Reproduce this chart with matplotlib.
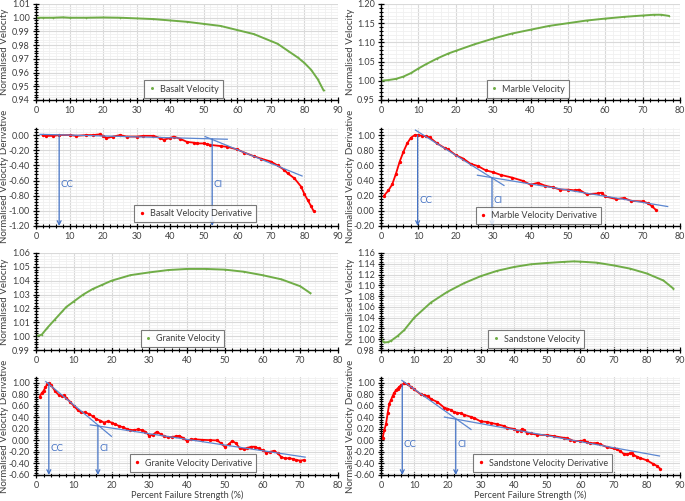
import matplotlib
matplotlib.use('Agg')
import matplotlib.pyplot as plt
from matplotlib.ticker import MultipleLocator, FormatStrFormatter

plt.rcParams['font.family'] = ['Lato', 'DejaVu Sans']

GREEN = '#70AD47'
RED = '#FF0000'
BLUE = '#4472C4'
FIT = '#5B86D0'

# ---- velocity curves ----
basalt_x = [0, 2, 5, 8, 10, 15, 20, 25, 30, 35, 40, 45, 50, 55, 60, 65, 70, 72, 75, 78, 80, 82, 84, 85.7]
basalt_v = [1.000, 1.000, 1.000, 1.0003, 1.000, 1.000, 1.0002, 1.000, 0.9995, 0.999, 0.998, 0.997, 0.9955,
            0.994, 0.991, 0.988, 0.983, 0.981, 0.976, 0.971, 0.967, 0.962, 0.955, 0.947]

marble_x = [0, 2, 4, 6, 8, 10, 12, 15, 18, 20, 25, 30, 35, 40, 45, 50, 55, 60, 65, 70, 73, 75, 77]
marble_v = [1.000, 1.002, 1.005, 1.011, 1.020, 1.032, 1.043, 1.058, 1.071, 1.078, 1.095, 1.110, 1.123,
            1.133, 1.143, 1.150, 1.157, 1.162, 1.1665, 1.170, 1.172, 1.172, 1.169]

granite_x = [0, 1.5, 3, 5, 7, 8, 10, 12.5, 15, 17.5, 20, 25, 30, 35, 40, 45, 50, 55, 60, 65, 70, 72.7]
granite_v = [1.000, 1.001, 1.006, 1.012, 1.018, 1.021, 1.025, 1.030, 1.034, 1.037, 1.040, 1.044, 1.046,
             1.0477, 1.0485, 1.0485, 1.048, 1.0465, 1.044, 1.041, 1.036, 1.031]

sand_x = [0, 0.5, 1, 2, 3, 5, 7, 10, 15, 20, 25, 30, 35, 40, 45, 50, 55, 58, 60, 65, 70, 75, 80, 85, 88]
sand_v = [1.002, 0.996, 0.994, 0.9945, 0.997, 1.006, 1.017, 1.040, 1.068, 1.088, 1.104, 1.117, 1.127,
          1.134, 1.139, 1.1415, 1.1435, 1.1445, 1.144, 1.142, 1.137, 1.131, 1.122, 1.109, 1.094]

# ---- normalised derivatives ----
basalt_dx = [2, 3, 5, 7, 10, 12, 15, 17, 19, 20, 21, 23, 25, 27, 30, 32, 35, 37, 38, 40, 41, 43, 45, 47, 48,
             50, 51, 52, 55, 57, 60, 62, 65, 67, 70, 72, 74, 75, 77, 79, 80, 81, 82, 82.7]
basalt_d = [0.00, -0.01, -0.01, 0.00, 0.00, -0.01, 0.00, 0.00, 0.01, -0.01, -0.04, -0.02, 0.00, -0.02, -0.02,
            -0.01, -0.01, -0.04, -0.06, -0.04, -0.02, -0.05, -0.09, -0.10, -0.11, -0.11, -0.12, -0.13, -0.145,
            -0.155, -0.19, -0.23, -0.28, -0.31, -0.35, -0.40, -0.46, -0.505, -0.57, -0.68, -0.78, -0.86, -0.94, -1.00]

marble_dx = [0.8, 2, 3, 4, 5, 6, 7, 8, 9, 10, 11, 12, 13, 15, 17, 18, 20, 22, 24, 26, 28, 30, 32, 35, 38, 40,
             42, 44, 46, 48, 50, 52, 53, 55, 58, 59, 60, 63, 65, 67, 70, 71.5, 72.5, 73.5]
marble_d = [0.20, 0.27, 0.35, 0.49, 0.65, 0.78, 0.89, 0.965, 1.00, 1.00, 0.99, 0.985, 0.97, 0.89, 0.83, 0.81,
            0.735, 0.69, 0.62, 0.59, 0.535, 0.51, 0.475, 0.44, 0.395, 0.345, 0.37, 0.33, 0.31, 0.28, 0.28, 0.27,
            0.28, 0.22, 0.23, 0.24, 0.19, 0.155, 0.17, 0.13, 0.125, 0.10, 0.06, 0.015]

granite_dx = [1, 1.5, 2, 2.5, 3, 3.5, 4, 5, 6, 7, 7.5, 8, 9, 10, 11, 12, 13, 14, 15, 16, 17, 18, 19, 20, 21,
              22, 23, 24, 25, 26, 27, 28, 29, 30, 31, 32, 33, 34, 35, 36, 37, 38, 39, 40, 41, 42, 44, 46, 48,
              49, 50, 51, 52, 53, 54, 55, 56, 57, 58, 59, 60, 61, 62, 63, 64, 65, 66, 67, 68, 69, 70, 71]
granite_d = [0.76, 0.82, 0.86, 0.92, 0.98, 1.00, 0.96, 0.86, 0.79, 0.77, 0.78, 0.74, 0.67, 0.60, 0.53, 0.485,
             0.485, 0.46, 0.42, 0.37, 0.345, 0.31, 0.33, 0.31, 0.28, 0.25, 0.23, 0.20, 0.18, 0.18, 0.19, 0.18,
             0.15, 0.08, 0.10, 0.15, 0.11, 0.07, 0.06, 0.06, 0.07, 0.08, 0.04, -0.01, 0.02, 0.02, 0.01, 0.005,
             0.00, -0.05, -0.11, -0.07, -0.01, -0.05, -0.14, -0.15, -0.13, -0.11, -0.11, -0.14, -0.17, -0.21,
             -0.20, -0.18, -0.22, -0.29, -0.31, -0.31, -0.32, -0.34, -0.35, -0.34]

sand_dx = [0.5, 1, 1.5, 2, 2.5, 3, 3.5, 4, 4.5, 5, 5.5, 6, 7, 8, 9, 10, 12, 13, 14, 15, 17, 19, 20, 21, 22,
           23, 24, 25, 27, 28, 30, 32, 33, 35, 37, 38, 40, 41, 42, 42.5, 43, 44, 45, 47, 50, 52, 55, 56, 57,
           58, 60, 61, 62, 63, 65, 66, 68, 70, 71, 72, 73, 74, 75, 75.5, 76, 77, 78, 80, 82, 83, 84]
sand_d = [0.05, 0.18, 0.28, 0.47, 0.64, 0.70, 0.77, 0.83, 0.87, 0.90, 0.93, 0.955, 0.99, 0.97, 0.93, 0.885,
          0.80, 0.78, 0.77, 0.72, 0.665, 0.57, 0.55, 0.53, 0.49, 0.48, 0.47, 0.445, 0.41, 0.39, 0.33, 0.32,
          0.305, 0.28, 0.25, 0.22, 0.20, 0.17, 0.17, 0.20, 0.18, 0.13, 0.12, 0.10, 0.09, 0.075, 0.045, 0.035,
          0.015, -0.01, -0.01, 0.00, -0.03, -0.05, -0.045, -0.07, -0.115, -0.14, -0.155, -0.185, -0.23,
          -0.24, -0.225, -0.21, -0.25, -0.28, -0.305, -0.345, -0.41, -0.44, -0.49]

# fitted trend lines [(x0, y0), (x1, y1)], and CC / CI onsets (x, top of arrow, label y)
basalt_fits = [[(1.2, 0.01), (57, -0.055)], [(50.4, -0.02), (79.3, -0.54)]]
basalt_cc = (6.9, 0.0, -0.65)
basalt_ci = (52.5, -0.05, -0.65)
marble_fits = [[(9.2, 1.066), (32.9, 0.335)], [(25.8, 0.47), (76.7, 0.057)]]
marble_cc = (9.8, 1.0, 0.14)
marble_ci = (29.7, 0.43, 0.14)
granite_fits = [[(2.6, 1.02), (20.0, 0.07)], [(14.4, 0.27), (71.3, -0.29)]]
granite_cc = (3.4, 1.0, -0.14)
granite_ci = (16.4, 0.26, -0.14)
sand_fits = [[(6.3, 1.04), (27.1, 0.19)], [(19.1, 0.405), (83.8, -0.27)]]
sand_cc = (6.4, 0.97, -0.07)
sand_ci = (22.5, 0.36, -0.07)

W, H = 685, 501
fig = plt.figure(figsize=(W / 100, H / 100), dpi=100)


def make_ax(left, top, right, bottom):
    return fig.add_axes([left / W, 1 - bottom / H, (right - left) / W, (bottom - top) / H])


def style(ax, xmax, ymin, ymax, ymaj, fmt, ylabel, xlabel=False):
    ax.set_xlim(0, xmax)
    ax.set_ylim(ymin, ymax)
    ax.xaxis.set_major_locator(MultipleLocator(10))
    ax.xaxis.set_minor_locator(MultipleLocator(2))
    ax.yaxis.set_major_locator(MultipleLocator(ymaj))
    ax.yaxis.set_minor_locator(MultipleLocator(ymaj / 5))
    ax.yaxis.set_major_formatter(FormatStrFormatter(fmt))
    ax.grid(which='major', color='#d9d9d9', lw=0.8)
    ax.grid(which='minor', color='#f0f0f0', lw=0.6)
    ax.set_axisbelow(True)
    for s in ['top', 'right']:
        ax.spines[s].set_visible(False)
    for s in ['left', 'bottom']:
        ax.spines[s].set_linewidth(1.0)
    ax.tick_params(which='major', direction='inout', length=4, width=0.9, labelsize=6.5, colors='black',
                   labelcolor='#404040', pad=2.5)
    ax.tick_params(which='minor', direction='inout', length=3, width=0.8)
    ax.set_ylabel(ylabel, fontsize=7, color='#404040')
    ax.yaxis.set_label_coords(-0.088, 0.5)
    if xlabel:
        ax.set_xlabel('Percent Failure Strength (%)', fontsize=6.6, color='#404040', labelpad=0.5)


def legend(ax, cx, cy, mscale=1.0):
    lg = ax.legend(loc='center', bbox_to_anchor=(cx / W, 1 - cy / H), bbox_transform=fig.transFigure,
                   fontsize=6.5, frameon=True, fancybox=False, handlelength=0.8, handletextpad=0.5,
                   borderpad=0.45, markerscale=mscale)
    lg.get_frame().set_edgecolor('#595959')
    lg.get_frame().set_linewidth(0.8)
    for t in lg.get_texts():
        t.set_color('#404040')


def derivative_extras(ax, fits, cc, ci, ymin):
    for (x0, y0), (x1, y1) in fits:
        ax.plot([x0, x1], [y0, y1], color=FIT, lw=0.9, zorder=4)
    for (x, top, ly), name in [(cc, 'CC'), (ci, 'CI')]:
        ax.annotate('', xy=(x, ymin), xytext=(x, top),
                    arrowprops=dict(arrowstyle='->', color=BLUE, lw=0.9, shrinkA=0, shrinkB=0,
                                    mutation_scale=7), zorder=5)
        ax.text(x + 0.5, ly, name, color=BLUE, fontsize=7, va='center', ha='left')


def velocity_plot(ax, x, v, name):
    ax.plot(x, v, color=GREEN, lw=1.4)
    ax.plot(x, v, 'o', color=GREEN, ms=1.2, mew=0, label=name)


def derivative_plot(ax, x, d, name):
    ax.plot(x, d, color=RED, lw=1.3)
    ax.plot(x, d, 'o', color=RED, ms=1.4, label=name)


# row 1
ax1 = make_ax(36, 4, 338, 100)
velocity_plot(ax1, basalt_x, basalt_v, 'Basalt Velocity')
style(ax1, 90, 0.94, 1.01, 0.01, '%.2f', 'Normalised Velocity')
legend(ax1, 183.5, 89, 1.8)

ax2 = make_ax(381, 4, 680, 100)
velocity_plot(ax2, marble_x, marble_v, 'Marble Velocity')
style(ax2, 80, 0.95, 1.20, 0.05, '%.2f', 'Normalised Velocity')
legend(ax2, 528, 89, 1.8)

# row 2
ax3 = make_ax(36, 127.5, 338, 226)
derivative_plot(ax3, basalt_dx, basalt_d, 'Basalt Velocity Derivative')
derivative_extras(ax3, basalt_fits, basalt_cc, basalt_ci, -1.2)
style(ax3, 90, -1.2, 0.1, 0.2, '%.2f', 'Normalised Velocity Derivative')
ax3.set_yticks([-1.2, -1.0, -0.8, -0.6, -0.4, -0.2, 0.0])
legend(ax3, 195, 213.5)

ax4 = make_ax(381, 127.5, 680, 226)
derivative_plot(ax4, marble_dx, marble_d, 'Marble Velocity Derivative')
derivative_extras(ax4, marble_fits, marble_cc, marble_ci, -0.2)
style(ax4, 80, -0.2, 1.1, 0.2, '%.2f', 'Normalised Velocity Derivative')
ax4.set_yticks([-0.2, 0.0, 0.2, 0.4, 0.6, 0.8, 1.0])
legend(ax4, 538.5, 215.5)

# row 3
ax5 = make_ax(36, 253, 338, 350)
velocity_plot(ax5, granite_x, granite_v, 'Granite Velocity')
style(ax5, 80, 0.99, 1.06, 0.01, '%.2f', 'Normalised Velocity')
legend(ax5, 182.5, 338.5, 1.8)

ax6 = make_ax(381, 253, 680, 350)
velocity_plot(ax6, sand_x, sand_v, 'Sandstone Velocity')
style(ax6, 90, 0.98, 1.16, 0.02, '%.2f', 'Normalised Velocity')
legend(ax6, 536, 339, 1.8)

# row 4
ax7 = make_ax(36, 377, 338, 475)
derivative_plot(ax7, granite_dx, granite_d, 'Granite Velocity Derivative')
derivative_extras(ax7, granite_fits, granite_cc, granite_ci, -0.6)
style(ax7, 80, -0.6, 1.1, 0.2, '%.2f', 'Normalised Velocity Derivative', xlabel=True)
ax7.set_yticks([-0.6, -0.4, -0.2, 0.0, 0.2, 0.4, 0.6, 0.8, 1.0])
legend(ax7, 193, 463)

ax8 = make_ax(381, 377, 680, 475)
derivative_plot(ax8, sand_dx, sand_d, 'Sandstone Velocity Derivative')
derivative_extras(ax8, sand_fits, sand_cc, sand_ci, -0.6)
style(ax8, 90, -0.6, 1.1, 0.2, '%.2f', 'Normalised Velocity Derivative', xlabel=True)
ax8.set_yticks([-0.6, -0.4, -0.2, 0.0, 0.2, 0.4, 0.6, 0.8, 1.0])
legend(ax8, 542.5, 463)

fig.savefig('out.png', dpi=100)
